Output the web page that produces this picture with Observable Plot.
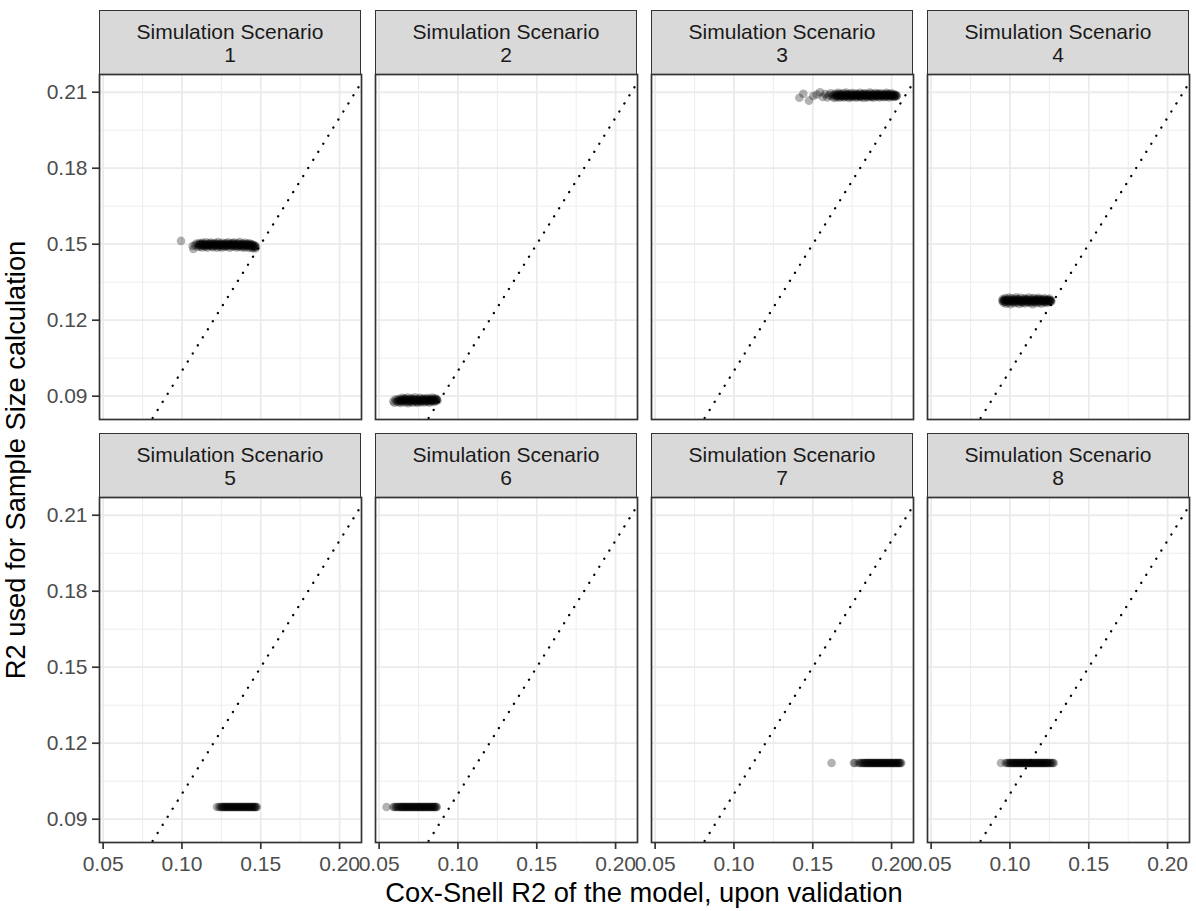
<!DOCTYPE html>
<html>
<head>
<meta charset="utf-8">
<script src="https://cdn.jsdelivr.net/npm/d3@7"></script>
<script src="https://cdn.jsdelivr.net/npm/@observablehq/plot@0.6"></script>
<style>
  body { margin: 0; background: #fff; }
  #chart { position: relative; width: 1196px; height: 911px; background: #fff;
           font-family: "Liberation Sans", Arial, sans-serif; overflow: hidden; }
  .strip { position: absolute; box-sizing: border-box; width: 262px; height: 65px;
           background: #D9D9D9; border: 1.7px solid #333333; display: flex;
           align-items: center; justify-content: center; text-align: center;
           font-size: 21px; line-height: 23px; color: #1A1A1A; }
  .panel { position: absolute; }
  .panel svg { overflow: visible; }
  .xtitle { position: absolute; left: 99px; width: 1090px; top: 879px; text-align: center;
            font-size: 27.3px; line-height: 27.3px; color: #000; white-space: nowrap; }
  .ytitle { position: absolute; left: 15.6px; top: 460px; transform: translate(-50%, -50%) rotate(-90deg);
            font-size: 27.3px; line-height: 27.3px; color: #000; white-space: nowrap; }
</style>
</head>
<body>
<div id="chart"></div>
<script>
// ---- Data ----
const scenarioLabels = ["1", "2", "3", "4", "5", "6", "7", "8"];
const stripTitle = "Simulation Scenario";
const xTitle = "Cox-Snell R2 of the model, upon validation";
const yTitle = "R2 used for Sample Size calculation";

const xTicks = [0.05, 0.10, 0.15, 0.20];
const xMinor = [0.075, 0.125, 0.175];
const yTicks = [0.09, 0.12, 0.15, 0.18, 0.21];
const yMinor = [0.105, 0.135, 0.165, 0.195];
const xDomain = [0.0477, 0.2139];
const yDomain = [0.0808, 0.2170];
const identityLine = [0.04, 0.23];

// Scenario 1-4: [Cox-Snell R2 on validation, R2 used for sample size]
const scenario1 = [[0.0994,0.1513],[0.1068,0.1493],[0.1072,0.1481],[0.1084,0.1497],[0.1093,0.1503],[0.1101,0.1489],
[0.1106,0.1497],[0.1111,0.1505],[0.1116,0.1492],[0.1121,0.1500],[0.1127,0.1487],[0.1131,0.1506],[0.1136,0.1495],[0.1142,0.1501],[0.1147,0.1490],[0.1151,0.1508],[0.1157,0.1496],[0.1162,0.1486],[0.1168,0.1503],[0.1172,0.1494],[0.1177,0.1499],[0.1183,0.1507],[0.1188,0.1491],[0.1193,0.1502],[0.1198,0.1488],[0.1203,0.1497],[0.1208,0.1505],[0.1213,0.1493],[0.1219,0.1500],[0.1224,0.1486],[0.1228,0.1509],[0.1234,0.1496],[0.1239,0.1490],[0.1243,0.1503],[0.1249,0.1498],[0.1254,0.1487],[0.1258,0.1506],[0.1264,0.1494],[0.1268,0.1501],[0.1273,0.1489],[0.1279,0.1504],[0.1283,0.1497],[0.1288,0.1492],[0.1293,0.1508],[0.1298,0.1499],[0.1303,0.1486],[0.1308,0.1502],[0.1313,0.1495],[0.1318,0.1505],[0.1323,0.1490],[0.1327,0.1498],[0.1332,0.1507],[0.1337,0.1493],[0.1342,0.1500],[0.1347,0.1487],[0.1352,0.1504],[0.1356,0.1496],[0.1361,0.1491],[0.1366,0.1509],[0.1371,0.1499],[0.1376,0.1488],[0.1381,0.1503],[0.1385,0.1494],[0.1390,0.1501],[0.1395,0.1486],[0.1400,0.1506],[0.1405,0.1497],[0.1409,0.1490],[0.1414,0.1502],[0.1419,0.1495],[0.1424,0.1485],[0.1428,0.1504],[0.1433,0.1498],[0.1438,0.1489],[0.1443,0.1500],[0.1447,0.1484],[0.1452,0.1496],[0.1457,0.1487],[0.1461,0.1493],[0.1466,0.1483],[0.1470,0.1490],
[0.1109,0.1499],[0.1118,0.1496],[0.1126,0.1501],[0.1135,0.1498],[0.1144,0.1494],[0.1153,0.1500],[0.1160,0.1497],[0.1170,0.1495],[0.1179,0.1502],[0.1187,0.1498],[0.1196,0.1493],[0.1205,0.1500],[0.1215,0.1497],[0.1222,0.1502],[0.1231,0.1495],[0.1241,0.1499],[0.1251,0.1494],[0.1261,0.1500],[0.1270,0.1497],[0.1281,0.1493],[0.1290,0.1501],[0.1300,0.1496],[0.1311,0.1499],[0.1320,0.1494],[0.1330,0.1502],[0.1340,0.1497],[0.1349,0.1493],[0.1359,0.1500],[0.1369,0.1495],[0.1379,0.1498],[0.1388,0.1492],[0.1397,0.1499],[0.1407,0.1494],[0.1417,0.1500],[0.1426,0.1496],[0.1436,0.1493],[0.1445,0.1498],[0.1455,0.1491],[0.1463,0.1495]];

const scenario2 = [[0.0590,0.0880],[0.0597,0.0874],[0.0604,0.0888],[0.0611,0.0879],[0.0617,0.0885],[0.0622,0.0876],
[0.0628,0.0890],[0.0632,0.0881],[0.0637,0.0873],[0.0642,0.0886],[0.0647,0.0894],[0.0651,0.0878],[0.0656,0.0884],[0.0661,0.0891],[0.0666,0.0875],[0.0670,0.0887],[0.0675,0.0880],[0.0680,0.0895],[0.0685,0.0872],[0.0689,0.0883],[0.0694,0.0889],[0.0699,0.0877],[0.0704,0.0892],[0.0708,0.0885],[0.0713,0.0874],[0.0718,0.0888],[0.0723,0.0881],[0.0727,0.0896],[0.0732,0.0878],[0.0737,0.0886],[0.0742,0.0873],[0.0746,0.0890],[0.0751,0.0883],[0.0756,0.0879],[0.0761,0.0894],[0.0765,0.0876],[0.0770,0.0887],[0.0775,0.0882],[0.0780,0.0891],[0.0784,0.0875],[0.0789,0.0885],[0.0794,0.0889],[0.0799,0.0878],[0.0803,0.0893],[0.0808,0.0881],[0.0813,0.0887],[0.0818,0.0874],[0.0822,0.0890],[0.0827,0.0884],[0.0832,0.0879],[0.0837,0.0895],[0.0841,0.0882],[0.0846,0.0888],[0.0851,0.0877],[0.0856,0.0892],[0.0860,0.0885],[0.0865,0.0889],[0.0870,0.0883],
[0.0630,0.0884],[0.0639,0.0880],[0.0649,0.0887],[0.0658,0.0882],[0.0668,0.0889],[0.0677,0.0884],[0.0687,0.0879],[0.0696,0.0886],[0.0706,0.0881],[0.0716,0.0888],[0.0725,0.0883],[0.0735,0.0879],[0.0744,0.0886],[0.0754,0.0884],[0.0763,0.0880],[0.0773,0.0888],[0.0782,0.0883],[0.0792,0.0881],[0.0801,0.0887],[0.0811,0.0884],[0.0820,0.0880],[0.0830,0.0888],[0.0839,0.0885],[0.0849,0.0881],[0.0858,0.0886],[0.0867,0.0884]];

const scenario3 = [[0.1415,0.2078],[0.1440,0.2094],[0.1476,0.2067],[0.1503,0.2085],[0.1525,0.2091],[0.1546,0.2100],[0.1563,0.2081],[0.1578,0.2093],[0.1592,0.2079],[0.1603,0.2088],[0.1613,0.2096],[0.1622,0.2083],[0.1630,0.2090],[0.1636,0.2077],
[0.1640,0.2087],[0.1645,0.2095],[0.1650,0.2080],[0.1655,0.2091],[0.1659,0.2084],[0.1664,0.2098],[0.1669,0.2078],[0.1674,0.2089],[0.1679,0.2093],[0.1683,0.2082],[0.1688,0.2087],[0.1693,0.2096],[0.1698,0.2079],[0.1703,0.2090],[0.1707,0.2085],[0.1712,0.2099],[0.1717,0.2081],[0.1722,0.2092],[0.1727,0.2086],[0.1731,0.2077],[0.1736,0.2094],[0.1741,0.2088],[0.1746,0.2083],[0.1751,0.2097],[0.1755,0.2080],[0.1760,0.2090],[0.1765,0.2086],[0.1770,0.2095],[0.1775,0.2078],[0.1779,0.2089],[0.1784,0.2093],[0.1789,0.2082],[0.1794,0.2087],[0.1799,0.2098],[0.1803,0.2080],[0.1808,0.2091],[0.1813,0.2085],[0.1818,0.2094],[0.1823,0.2077],[0.1827,0.2088],[0.1832,0.2096],[0.1837,0.2083],[0.1842,0.2090],[0.1847,0.2079],[0.1851,0.2092],[0.1856,0.2086],[0.1861,0.2099],[0.1866,0.2081],[0.1871,0.2089],[0.1875,0.2095],[0.1880,0.2084],[0.1885,0.2078],[0.1890,0.2091],[0.1895,0.2087],[0.1899,0.2097],[0.1904,0.2082],[0.1909,0.2090],[0.1914,0.2085],[0.1919,0.2094],[0.1923,0.2079],[0.1928,0.2088],[0.1933,0.2096],[0.1938,0.2083],[0.1943,0.2091],[0.1947,0.2086],[0.1952,0.2080],[0.1957,0.2093],[0.1962,0.2089],[0.1967,0.2098],[0.1971,0.2082],[0.1976,0.2087],[0.1981,0.2094],[0.1986,0.2079],[0.1991,0.2090],[0.1995,0.2085],[0.2000,0.2096],[0.2005,0.2083],[0.2010,0.2089],[0.2015,0.2092],[0.2019,0.2081],[0.2024,0.2088],[0.2029,0.2084],[0.2034,0.2086],
[0.1652,0.2088],[0.1662,0.2084],[0.1672,0.2091],[0.1681,0.2086],[0.1691,0.2083],[0.1700,0.2089],[0.1710,0.2085],[0.1720,0.2092],[0.1729,0.2087],[0.1739,0.2083],[0.1748,0.2090],[0.1758,0.2086],[0.1768,0.2088],[0.1777,0.2084],[0.1787,0.2091],[0.1796,0.2086],[0.1806,0.2083],[0.1816,0.2089],[0.1825,0.2092],[0.1835,0.2086],[0.1844,0.2084],[0.1854,0.2090],[0.1864,0.2087],[0.1873,0.2083],[0.1883,0.2091],[0.1892,0.2085],[0.1902,0.2088],[0.1912,0.2093],[0.1921,0.2084],[0.1931,0.2089],[0.1940,0.2086],[0.1950,0.2090],[0.1960,0.2083],[0.1969,0.2088],[0.1979,0.2091],[0.1988,0.2085],[0.1998,0.2089],[0.2008,0.2086],[0.2017,0.2084],[0.2027,0.2089]];

const scenario4 = [[0.0951,0.1277],[0.0955,0.1284],[0.0959,0.1269],[0.0963,0.1280],[0.0967,0.1273],[0.0971,0.1287],[0.0976,0.1265],[0.0980,0.1278],[0.0985,0.1282],[0.0989,0.1270],[0.0994,0.1289],[0.0999,0.1275],[0.1003,0.1263],[0.1008,0.1281],[0.1013,0.1286],[0.1017,0.1272],[0.1022,0.1278],[0.1027,0.1267],[0.1031,0.1284],[0.1036,0.1276],[0.1041,0.1290],[0.1045,0.1270],[0.1050,0.1279],[0.1055,0.1283],[0.1059,0.1264],[0.1064,0.1274],[0.1069,0.1288],[0.1073,0.1277],[0.1078,0.1268],[0.1083,0.1282],[0.1087,0.1273],[0.1092,0.1286],[0.1097,0.1266],[0.1101,0.1279],[0.1106,0.1284],[0.1111,0.1271],[0.1115,0.1276],[0.1120,0.1289],[0.1125,0.1269],[0.1129,0.1281],[0.1134,0.1274],[0.1139,0.1285],[0.1143,0.1263],[0.1148,0.1278],[0.1153,0.1287],[0.1157,0.1272],[0.1162,0.1280],[0.1167,0.1267],[0.1171,0.1283],[0.1176,0.1275],[0.1181,0.1288],[0.1185,0.1270],[0.1190,0.1279],[0.1195,0.1284],[0.1199,0.1265],[0.1204,0.1276],[0.1209,0.1282],[0.1213,0.1271],[0.1218,0.1286],[0.1223,0.1274],[0.1227,0.1280],[0.1232,0.1268],[0.1237,0.1283],[0.1241,0.1277],[0.1246,0.1272],[0.1251,0.1285],[0.1255,0.1275],[0.1259,0.1279],[0.1262,0.1273],
[0.0957,0.1276],[0.0966,0.1280],[0.0975,0.1273],[0.0983,0.1278],[0.0992,0.1282],[0.1001,0.1274],[0.1010,0.1277],[0.1020,0.1281],[0.1029,0.1272],[0.1038,0.1279],[0.1047,0.1283],[0.1057,0.1275],[0.1066,0.1278],[0.1075,0.1272],[0.1085,0.1280],[0.1094,0.1276],[0.1103,0.1282],[0.1113,0.1273],[0.1122,0.1279],[0.1132,0.1277],[0.1141,0.1271],[0.1150,0.1281],[0.1160,0.1275],[0.1169,0.1278],[0.1179,0.1283],[0.1188,0.1274],[0.1197,0.1279],[0.1207,0.1276],[0.1216,0.1281],[0.1225,0.1272],[0.1235,0.1278],[0.1244,0.1280],[0.1253,0.1275],[0.1260,0.1278]];

// Scenario 5-8: R2 used for sample size is a single value
const scenario5Y = 0.0948;
const scenario5X = [0.1222,0.1235,0.1243,0.1250,0.1256,0.1261,0.1266,0.1271,0.1276,0.1280,0.1285,0.1290,0.1295,0.1299,0.1304,0.1309,0.1314,0.1318,0.1323,0.1328,0.1333,0.1337,0.1342,0.1347,0.1352,0.1356,0.1361,0.1366,0.1371,0.1375,0.1380,0.1385,0.1390,0.1394,0.1399,0.1404,0.1409,0.1413,0.1418,0.1423,0.1428,0.1432,0.1437,0.1442,0.1447,0.1451,0.1456,0.1461,0.1466,0.1470,0.1475];

const scenario6Y = 0.0948;
const scenario6X = [0.0547,0.0590,0.0598,0.0606,0.0613,0.0620,0.0627,0.0633,0.0638,0.0643,0.0648,0.0652,0.0657,0.0662,0.0667,0.0671,0.0676,0.0681,0.0686,0.0690,0.0695,0.0700,0.0705,0.0709,0.0714,0.0719,0.0724,0.0728,0.0733,0.0738,0.0743,0.0747,0.0752,0.0757,0.0762,0.0766,0.0771,0.0776,0.0781,0.0785,0.0790,0.0795,0.0800,0.0804,0.0809,0.0814,0.0819,0.0823,0.0828,0.0833,0.0838,0.0842,0.0847,0.0852,0.0857,0.0861,0.0866];

const scenario7Y = 0.1122;
const scenario7X = [0.1619,0.1761,0.1768,0.1790,0.1800,0.1808,0.1815,0.1821,0.1827,0.1833,0.1838,0.1842,0.1847,0.1852,0.1857,0.1861,0.1866,0.1871,0.1876,0.1880,0.1885,0.1890,0.1895,0.1899,0.1904,0.1909,0.1914,0.1918,0.1923,0.1928,0.1933,0.1937,0.1942,0.1947,0.1952,0.1956,0.1961,0.1966,0.1971,0.1975,0.1980,0.1985,0.1990,0.1994,0.1999,0.2004,0.2009,0.2013,0.2018,0.2023,0.2028,0.2032,0.2037,0.2042,0.2047,0.2051,0.2056,0.2061];

const scenario8Y = 0.1122;
const scenario8X = [0.0943,0.0972,0.0981,0.0989,0.0995,0.1001,0.1006,0.1011,0.1017,0.1022,0.1026,0.1031,0.1036,0.1041,0.1045,0.1050,0.1055,0.1060,0.1064,0.1069,0.1074,0.1079,0.1083,0.1088,0.1093,0.1098,0.1102,0.1107,0.1112,0.1117,0.1121,0.1126,0.1131,0.1136,0.1140,0.1145,0.1150,0.1155,0.1159,0.1164,0.1169,0.1174,0.1178,0.1183,0.1188,0.1193,0.1197,0.1202,0.1207,0.1212,0.1216,0.1221,0.1226,0.1231,0.1235,0.1240,0.1246,0.1252,0.1259,0.1265,0.1272,0.1278];

// ---- Build tables ----
const fromPairs = (arr) => arr.map(([x, y]) => ({x, y}));
const fromX = (xs, y) => xs.map((x) => ({x, y}));
const panelsData = [
  fromPairs(scenario1), fromPairs(scenario2), fromPairs(scenario3), fromPairs(scenario4),
  fromX(scenario5X, scenario5Y), fromX(scenario6X, scenario6Y),
  fromX(scenario7X, scenario7Y), fromX(scenario8X, scenario8Y)
];

// ---- Layout ----
const PANEL_W = 262, PANEL_H = 345, COL_STEP = 276, ROW_STEP = 423;
const LEFT0 = 99, STRIP_TOP0 = 10, PANEL_TOP0 = 74;
const FONT = "Liberation Sans, Arial, sans-serif";
const chart = document.getElementById("chart");

panelsData.forEach((points, i) => {
  const c = i % 4, r = Math.floor(i / 4);
  const left = LEFT0 + c * COL_STEP;

  const strip = document.createElement("div");
  strip.className = "strip";
  strip.style.left = left + "px";
  strip.style.top = (STRIP_TOP0 + r * ROW_STEP) + "px";
  strip.innerHTML = stripTitle + "<br>" + scenarioLabels[i];
  chart.appendChild(strip);

  const mL = c === 0 ? 99 : 2, mR = 2, mT = 2, mB = r === 1 ? 69 : 2;
  const marks = [
    Plot.gridX(xMinor, {stroke: "#EBEBEB", strokeOpacity: 1, strokeWidth: 0.9}),
    Plot.gridY(yMinor, {stroke: "#EBEBEB", strokeOpacity: 1, strokeWidth: 0.9}),
    Plot.gridX(xTicks, {stroke: "#EBEBEB", strokeOpacity: 1, strokeWidth: 1.8}),
    Plot.gridY(yTicks, {stroke: "#EBEBEB", strokeOpacity: 1, strokeWidth: 1.8}),
    Plot.line(identityLine, {x: (d) => d, y: (d) => d, clip: true, stroke: "#000",
      strokeWidth: 2.3, strokeLinecap: "round", strokeDasharray: "0.1,9.4"}),
    Plot.dot(points, {x: "x", y: "y", r: 4.3, fill: "#000", fillOpacity: 0.3}),
    Plot.frame({stroke: "#333333", strokeWidth: 1.7})
  ];
  if (c === 0) {
    marks.push(Plot.axisY(yTicks, {tickSize: 7, tickPadding: 5, tickFormat: ".2f",
      stroke: "#333333", strokeWidth: 1.7, fill: "#4D4D4D", fontSize: 21, label: null}));
  }
  if (r === 1) {
    marks.push(Plot.axisX(xTicks, {tickSize: 7, tickPadding: 7, tickFormat: ".2f",
      stroke: "#333333", strokeWidth: 1.7, fill: "#4D4D4D", fontSize: 21, label: null}));
  }
  const svg = Plot.plot({
    width: PANEL_W + mL + mR,
    height: PANEL_H + mT + mB,
    marginLeft: mL, marginRight: mR, marginTop: mT, marginBottom: mB,
    x: {domain: xDomain, axis: null, label: null},
    y: {domain: yDomain, axis: null, label: null},
    style: {background: "transparent", overflow: "visible", fontFamily: FONT, fontSize: "21px"},
    marks
  });
  const holder = document.createElement("div");
  holder.className = "panel";
  holder.style.left = (left - mL) + "px";
  holder.style.top = (PANEL_TOP0 + r * ROW_STEP - mT) + "px";
  holder.appendChild(svg);
  chart.appendChild(holder);
});

const xt = document.createElement("div");
xt.className = "xtitle";
xt.textContent = xTitle;
chart.appendChild(xt);

const yt = document.createElement("div");
yt.className = "ytitle";
yt.textContent = yTitle;
chart.appendChild(yt);
</script>
</body>
</html>
